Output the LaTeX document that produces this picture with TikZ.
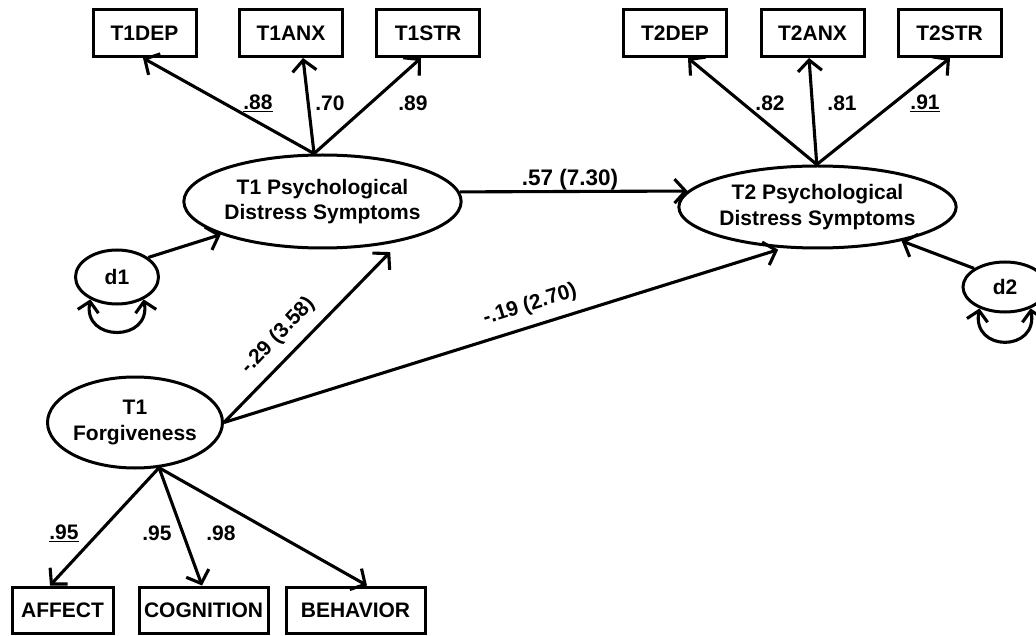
\documentclass[tikz,border=0pt]{standalone}
\usepackage{fontspec}
\setmainfont{Liberation Sans}
\usetikzlibrary{shapes.geometric,arrows.meta}
\begin{document}
\begin{tikzpicture}[x=1pt,y=-1pt,
  every node/.style={font=\bfseries\fontsize{21}{25.5}\selectfont, inner sep=0pt},
  obs/.style={draw, line width=3pt, minimum height=47pt, align=center},
  lat/.style={draw, ellipse, line width=3pt, align=center},
  lbl/.style={},
  conn/.style={line width=3.1pt, -{Straight Barb[length=11pt,width=24pt]}},
  loopc/.style={line width=3.1pt, {Straight Barb[length=10pt,width=21pt]}-{Straight Barb[length=10pt,width=21pt]}}
]
\useasboundingbox (0,0) rectangle (1036,636);
\clip (0,0) rectangle (1036,636);
% observed boxes
\node[obs, minimum width=103pt] (t1dep) at (144.5,33) {T1DEP};
\node[obs, minimum width=103pt] (t1anx) at (291,33) {T1ANX};
\node[obs, minimum width=103pt] (t1str) at (428,33) {T1STR};
\node[obs, minimum width=103pt] (t2dep) at (675,33) {T2DEP};
\node[obs, minimum width=103pt] (t2anx) at (812.5,33) {T2ANX};
\node[obs, minimum width=103pt] (t2str) at (949.5,33) {T2STR};
\node[obs, minimum width=101pt, minimum height=46pt] (aff) at (62.5,610) {AFFECT};
\node[obs, minimum width=129pt, minimum height=46pt] (cog) at (203.5,610) {COGNITION};
\node[obs, minimum width=139pt, minimum height=46pt] (beh) at (355.5,610) {BEHAVIOR};
% latent ellipses
\node[lat, minimum width=241pt, minimum height=93pt] (t1) at (322.5,201.5) {T1 Psychological\\Distress Symptoms};
\node[lat, minimum width=239pt, minimum height=82pt] (t2) at (817.5,207) {T2 Psychological\\Distress Symptoms};
\node[lat, minimum width=174pt, minimum height=91pt] (fg) at (135,422.5) {T1\\Forgiveness};
\node[lat, minimum width=83pt, minimum height=54pt] (d1) at (117,277) {d1};
\node[lat, minimum width=84pt, minimum height=50pt] (d2) at (1005,287) {d2};
% loadings T1
\draw[conn] (t1.100) -- ([xshift=-1.5pt]t1dep.south);
\draw[conn] (t1.100) -- ([xshift=12pt]t1anx.south);
\draw[conn] (t1.100) -- ([xshift=-7pt]t1str.south);
\node[lbl] (l88) at (258,103) {\underline{.88}};
\node[lbl] (l70) at (330,103) {.70};
\node[lbl] (l89) at (413,103) {.89};
% loadings T2
\draw[conn] (t2.91) -- ([xshift=13pt]t2dep.south);
\draw[conn] (t2.91) -- ([xshift=-3.5pt]t2anx.south);
\draw[conn] (t2.91) -- ([xshift=0.5pt]t2str.south);
\node[lbl] (l82) at (770,103) {.82};
\node[lbl] (l81) at (842,103) {.81};
\node[lbl] (l91) at (925,103) {\underline{.91}};
% loadings forgiveness
\draw[conn] (fg.-62) -- ([xshift=-12.5pt]aff.north);
\draw[conn] (fg.-62) -- ([xshift=-1.5pt]cog.north);
\draw[conn] (fg.-62) -- ([xshift=11.5pt]beh.north);
\node[lbl] (l95a) at (64,533) {\underline{.95}};
\node[lbl] (l95b) at (157,533) {.95};
\node[lbl] (l98) at (221,533) {.98};
% structural paths
\draw[conn] (t1.4) -- (t2.173);
\node[lbl, font=\bfseries\fontsize{22.5}{26}\selectfont] (l57) at (570,180) {.57 (7.30)};
\draw[conn, shorten >=15pt] (fg.east) -- (t1.-27.4);
\node[lbl, rotate=46.5] (l29) at (278,336) {-.29 (3.58)};
\draw[conn, shorten >=5pt] (fg.east) -- (t2.230.5);
\node[lbl, rotate=17.3] (l19) at (530,305) {-.19 (2.70)};
% disturbances
\draw[conn] (d1.32) -- (t1.198);
\draw[conn] (d2.149) -- (t2.-22);
\draw[loopc] (d1.220) .. controls +(-8,43) and +(8,43) .. (d1.320);
\draw[loopc] (d2.220) .. controls +(-8,44) and +(8,44) .. (d2.320);
\end{tikzpicture}
\end{document}
